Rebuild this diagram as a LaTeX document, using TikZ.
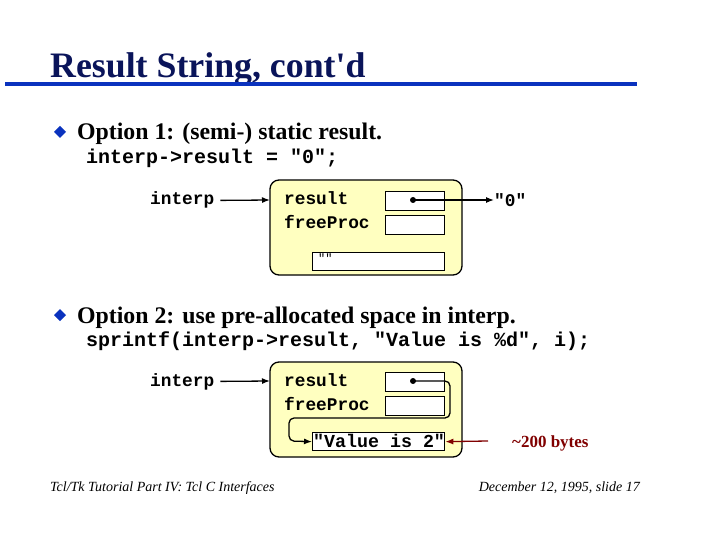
\documentclass[tikz,border=0pt]{standalone}
\usepackage{tikz}
\usepackage{fontspec}
\setmainfont{Liberation Serif}
\setmonofont{Liberation Mono}
\usetikzlibrary{arrows.meta}
\definecolor{navy}{RGB}{10,20,90}
\definecolor{rule}{RGB}{10,50,190}
\definecolor{maroon}{RGB}{128,0,0}
\definecolor{pale}{RGB}{255,255,192}
\tikzset{
  code/.style={font=\ttfamily\bfseries\fontsize{20}{20}\selectfont, anchor=base west, inner sep=0},
  label/.style={font=\ttfamily\bfseries\fontsize{17.8}{17.8}\selectfont, anchor=base west, inner sep=0},
  bullet/.style={font=\bfseries\fontsize{23.8}{23.8}\selectfont, anchor=base west, inner sep=0},
  cell/.style={draw, line width=1.3pt, fill=white},
  structbox/.style={draw, line width=1.3pt, fill=pale, rounded corners=9pt},
  ptr/.style={-{Latex[length=8pt,width=6pt]}, line width=1.3pt}
}
\begin{document}
\begin{tikzpicture}[x=1pt, y=-1pt]
\useasboundingbox (0,0) rectangle (720,540);
% Title
\node[anchor=base west, inner sep=0, text=navy, font=\bfseries\fontsize{35.8}{35.8}\selectfont] (title) at (50,78) {Result String, cont\textquotesingle d};
\draw[rule, line width=4pt] (5,84) -- (637,84);
% Option 1
\fill[rule] (60,126) -- (66,132) -- (60,138) -- (54,132) -- cycle;
\node[bullet] (opt1) at (77,140) {Option 1: (semi-) static result.};
\node[code] (line1) at (86,164) {interp->result = "0";};
\draw[structbox] (270,180) rectangle (462,275);
\node[label] (interp1) at (150,205) {interp};
\node[label] (result1) at (284,205) {result};
\node[label] (free1) at (284,229) {freeProc};
\node[cell, minimum width=59pt, minimum height=19pt, anchor=north west] (cellA) at (385,191) {};
\node[cell, minimum width=59pt, minimum height=19pt, anchor=north west] (cellB) at (385,215) {};
\node[cell, minimum width=132pt, minimum height=18pt, anchor=north west] (empty1) at (312,252) {};
\node[anchor=west, inner sep=0, font=\ttfamily\fontsize{12}{12}\selectfont] at (318,258) {""};
\node[label] (zero) at (494,207) {"0"};
\fill (413,200) circle (3);
\draw[ptr] (interp1.east) ++(6,0) coordinate (i1) (i1) -- (270,200);
\draw[ptr] (413,200) -- (zero.west |- 0,200);
% Option 2
\fill[rule] (60,309) -- (66,315) -- (60,321) -- (54,315) -- cycle;
\node[bullet] (opt2) at (77,323) {Option 2: use pre-allocated space in interp.};
\node[code] (line2) at (86,346) {sprintf(interp->result, "Value is \%d", i);};
\draw[structbox] (270,362) rectangle (462,457);
\node[label] (interp2) at (150,386) {interp};
\node[label] (result2) at (284,386) {result};
\node[label] (free2) at (284,410) {freeProc};
\node[cell, minimum width=59pt, minimum height=19pt, anchor=north west] (cellC) at (385,372) {};
\node[cell, minimum width=59pt, minimum height=19pt, anchor=north west] (cellD) at (385,396) {};
\node[cell, minimum width=132pt, minimum height=18pt, anchor=north west] (value) at (312,432) {};
\node[label, font=\ttfamily\bfseries\fontsize{18.3}{18.3}\selectfont] at (313,447) {"Value is 2"};
\fill (413,381) circle (3);
\draw[ptr] (interp2.east) ++(6,0) coordinate (i2) (i2) -- (270,381);
\draw[ptr, rounded corners=5pt] (413,381) -- (450,381) -- (450,418) -- (289,418) -- (289,441) -- (value.west);
\node[anchor=base west, inner sep=0, text=maroon, font=\bfseries\fontsize{17}{17}\selectfont] (bytes) at (512,447) {\textasciitilde200 bytes};
\draw[ptr, maroon] (488,441) -- (value.east);
% Footer
\node[anchor=base west, inner sep=0, font=\itshape\fontsize{14}{14}\selectfont] at (50,491) {Tcl/Tk Tutorial Part IV: Tcl C Interfaces};
\node[anchor=base east, inner sep=0, font=\itshape\fontsize{14}{14}\selectfont] at (640,491) {December 12, 1995, slide 17};
\end{tikzpicture}
\end{document}
